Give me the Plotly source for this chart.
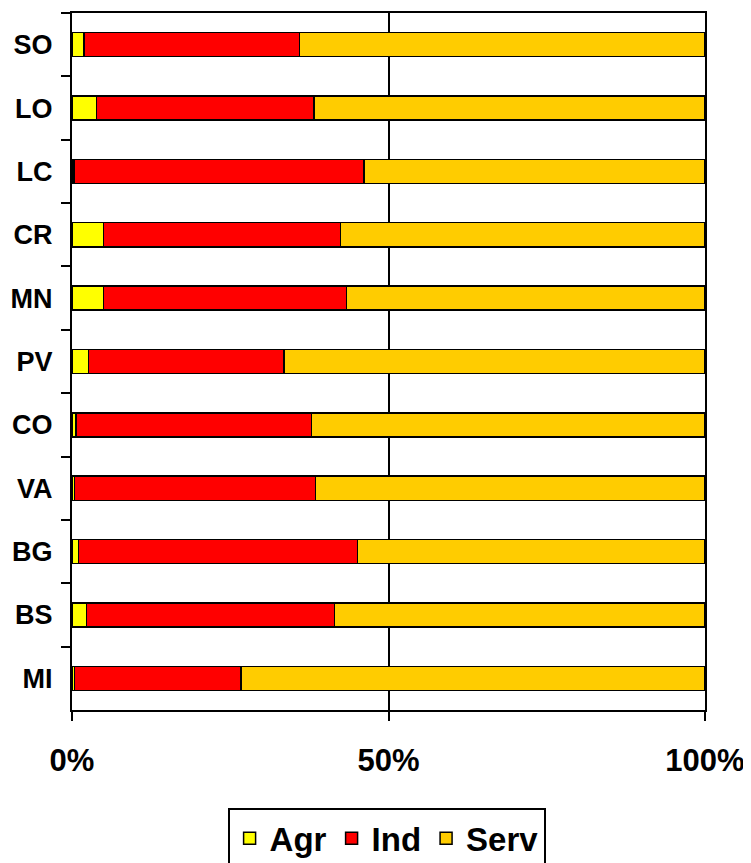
import plotly.graph_objects as go

regions = ["SO", "LO", "LC", "CR", "MN", "PV", "CO", "VA", "BG", "BS", "MI"]
agr = [1.9, 3.9, 0.3, 5.0, 5.0, 2.6, 0.6, 0.4, 1.0, 2.3, 0.4]
ind = [34.0, 34.3, 45.8, 37.4, 38.4, 30.9, 37.2, 38.1, 44.1, 39.2, 26.3]
serv = [64.1, 61.8, 53.9, 57.6, 56.6, 66.5, 62.2, 61.5, 54.9, 58.5, 73.3]

x_ticks = [0, 50, 100]
x_labels = ["0%", "50%", "100%"]

series = [("Agr", agr, "#FFFF00"), ("Ind", ind, "#FF0000"), ("Serv", serv, "#FFCC00")]

FONT = "Liberation Sans, Arial, sans-serif"

fig = go.Figure()
for name, vals, color in series:
    fig.add_trace(go.Bar(
        y=regions, x=vals, name=name, orientation="h",
        marker=dict(color=color, line=dict(color="black", width=1.5)),
    ))

# the page body adds an 8px margin, so the figure is sized 8px smaller
fig.update_layout(
    barmode="stack",
    bargap=0.62,
    width=743, height=855,
    margin=dict(l=64, r=46, t=5, b=153, autoexpand=False),
    plot_bgcolor="white", paper_bgcolor="white",
    font=dict(family=FONT, color="black", weight="bold"),
    legend=dict(
        orientation="h", x=0.497, xanchor="center", y=-0.141, yanchor="top",
        font=dict(size=33, family=FONT, weight="bold"),
        bordercolor="black", borderwidth=2, traceorder="normal",
        itemwidth=30,
    ),
)
fig.update_xaxes(
    range=[0, 100], tickvals=x_ticks, ticktext=x_labels,
    showgrid=True, gridcolor="black", gridwidth=1.5,
    showline=True, linecolor="black", linewidth=2, mirror=True,
    ticks="outside", ticklen=9, tickwidth=2, tickcolor="black",
    tickfont=dict(size=31, family=FONT, weight="bold"),
    ticklabelstandoff=13, zeroline=False, automargin=False,
)
fig.update_yaxes(
    autorange="reversed", tickson="boundaries",
    showline=True, linecolor="black", linewidth=2, mirror=True,
    ticks="outside", ticklen=9, tickwidth=2, tickcolor="black",
    tickfont=dict(size=27, family=FONT, weight="bold"),
    ticklabelstandoff=12, showgrid=False, automargin=False,
)

fig.write_html("out.html")
